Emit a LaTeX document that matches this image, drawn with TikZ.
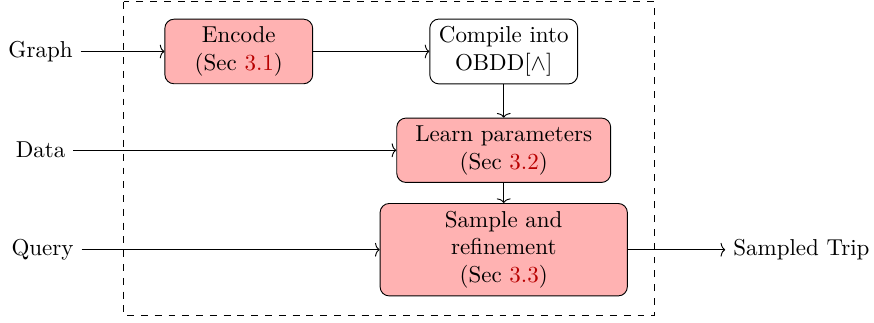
\documentclass[tikz,border=0pt]{standalone}
\usepackage{amsmath}
\usepackage{amssymb}
\usepackage{tikz}
\usetikzlibrary{arrows.meta}
\definecolor{linkred}{rgb}{0.72,0,0}
\newcommand{\secref}[1]{(Sec \textcolor{linkred}{#1})}

\begin{document}
\begin{tikzpicture}[->,>={To[length=2pt,width=6pt]},auto,node distance=4.05cm,
                    block/.style={rectangle,draw,rounded corners,fill=red!30,align=center},
                    plain block/.style={rectangle,draw,rounded corners,align=center}]

  \useasboundingbox (-3.65,0.787) rectangle (9.71,-4.14);

  \node[block,minimum width=2.26cm] (enc) {Encode\\ \secref{3.1}};
  \node[plain block,minimum width=2.26cm] (comp) [right of=enc] {Compile into\\ OBDD[$\wedge$]};
  \node[block,minimum width=3.27cm] (learn) [below of=comp,node distance=1.51cm] {Learn parameters\\ \secref{3.2}};
  \node[block,minimum width=3.78cm] (samp) [below of=learn,node distance=1.52cm] {Sample and\\ refinement\\ \secref{3.3}};

  \node (graph) [left of=enc,node distance=3.03cm] {Graph};
  \node (data) [left of=learn,node distance=7.08cm] {Data};
  \node (query) [left of=samp,node distance=7.05cm] {Query};
  \node (trip) [right of=samp,node distance=4.55cm] {Sampled Trip};

  % pipeline box
  \draw[-,dashed] (-1.76,0.757) rectangle (6.35,-4.04);

  \path
    (graph) edge (enc)
    (enc) edge (comp)
    (comp) edge (learn)
    (learn) edge (samp)
    (data) edge (learn)
    (query) edge (samp)
    (samp) edge (trip);
\end{tikzpicture}
\end{document}
